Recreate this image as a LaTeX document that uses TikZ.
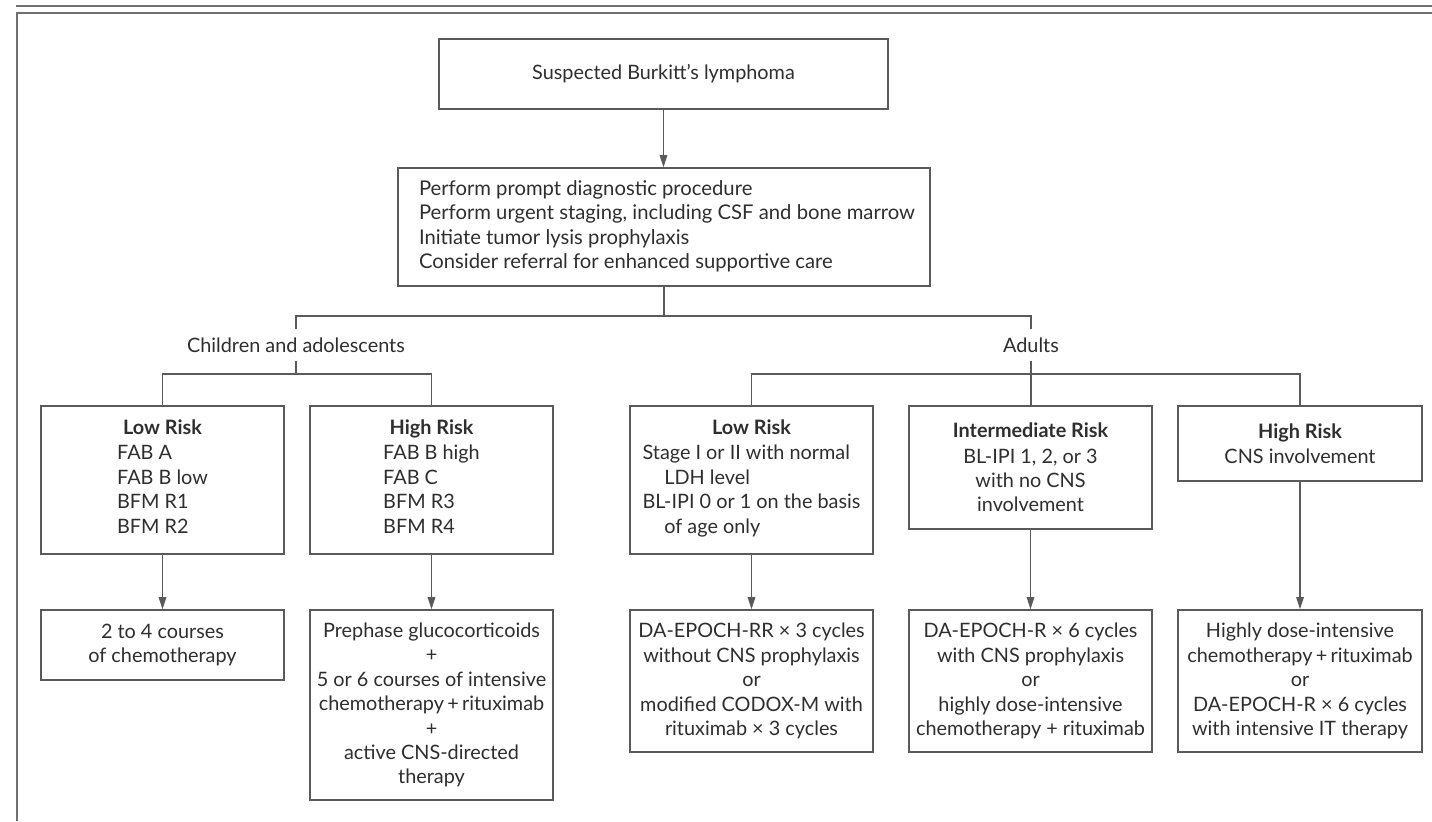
\documentclass[tikz,border=0pt]{standalone}
\usepackage{fontspec}
\setmainfont{Lato}
\usetikzlibrary{arrows.meta}
\definecolor{boxline}{HTML}{5A5A5A}
\definecolor{txt}{HTML}{2E2E2E}
\definecolor{rulegray}{HTML}{707070}
\newsavebox\measurebox
\newlength\measurelen
\begin{document}
% calibrate font sizes against the widths of the reference's text
\sbox\measurebox{\fontsize{10}{12}\selectfont Perform urgent staging, including CSF and bone marrow}%
\pgfmathsetmacro\worksize{10*497.86/\wd\measurebox}%
\sbox\measurebox{\fontsize{10}{12}\selectfont Stage I or II with normal}\setlength\measurelen{\wd\measurebox}%
\sbox\measurebox{\fontsize{10}{12}\selectfont without CNS prophylaxis}\addtolength\measurelen{\wd\measurebox}%
\sbox\measurebox{\fontsize{10}{12}\selectfont Highly dose-intensive}\addtolength\measurelen{\wd\measurebox}%
\sbox\measurebox{\fontsize{10}{12}\selectfont of chemotherapy}\addtolength\measurelen{\wd\measurebox}%
\pgfmathsetmacro\bodysize{10*762.85/\measurelen}%
\begin{tikzpicture}[x=1bp,y=-1bp,
  every node/.style={text=txt, font=\fontsize{\bodysize}{24.5}\selectfont},
  box/.style={draw=boxline, line width=1.6bp, inner sep=0pt, align=center, minimum width=243bp},
  conn/.style={draw=boxline, line width=1.3bp},
  arr/.style={conn, -{Triangle[length=12bp,width=7.5bp]}},
  lbl/.style={inner sep=0pt, minimum height=32bp}
]
\useasboundingbox (0,0) rectangle (1432,821);
% frame
\draw[rulegray, line width=1.5bp] (16,6) -- (1432,6);
\draw[rulegray, line width=1.5bp] (17,821) -- (17,13) -- (1432,13);

% top
\node[box, minimum width=449bp, minimum height=70bp] (start) at (663.5,74) {Suspected Burkitt's lymphoma};
\node[box, minimum width=532bp, minimum height=118bp, font=\fontsize{\worksize}{24.7}\selectfont] (work) at (664,227) {\makebox[490bp][l]{\begin{tabular}{@{}l@{}}Perform prompt diagnostic procedure\\Perform urgent staging, including CSF and bone marrow\\Initiate tumor lysis prophylaxis\\Consider referral for enhanced supportive care\end{tabular}}};

\node[lbl] (kids) at (296,345) {Children and adolescents};
\node[lbl] (adults) at (1031,345) {Adults};

% row 1
\node[box, minimum height=148bp] (cl) at (162.5,480) {\textbf{Low Risk}\\[1bp]\begin{tabular}[t]{@{}l@{}}FAB A\\FAB B low\\BFM R1\\BFM R2\end{tabular}};
\node[box, minimum height=148bp] (ch) at (431.5,480) {\textbf{High Risk}\\[1bp]\begin{tabular}[t]{@{}l@{}}FAB B high\\FAB C\\BFM R3\\BFM R4\end{tabular}};
\node[box, minimum height=148bp] (al) at (751.5,480) {\textbf{Low Risk}\\[1bp]\begin{tabular}[t]{@{}l@{}}Stage I or II with normal\\\hspace*{1.1em}LDH level\\BL-IPI 0 or 1 on the basis\\\hspace*{1.1em}of age only\end{tabular}};
\node[box, minimum height=123bp] (ai) at (1030.5,467.5) {\textbf{Intermediate Risk}\\[1bp]BL-IPI 1, 2, or 3\\with no CNS\\involvement};
\node[box, minimum width=244bp, minimum height=75bp] (ah) at (1300,443.5) {\textbf{High Risk}\\[1bp]CNS involvement};

% row 2
\node[box, minimum height=70bp] (cl2) at (162.5,645) {2 to 4 courses\\of chemotherapy};
\node[box, minimum height=190bp] (ch2) at (431.5,705) {Prephase glucocorticoids\\+\\5 or 6 courses of intensive\\chemotherapy\,+\,rituximab\\+\\active CNS-directed\\therapy};
\node[box, minimum height=142bp] (al2) at (751.5,681) {DA-EPOCH-RR × 3 cycles\\without CNS prophylaxis\\or\\modified CODOX-M with\\rituximab × 3 cycles};
\node[box, minimum height=142bp] (ai2) at (1030.5,681) {DA-EPOCH-R × 6 cycles\\with CNS prophylaxis\\or\\highly dose-intensive\\chemotherapy + rituximab};
\node[box, minimum width=244bp, minimum height=142bp] (ah2) at (1300,681) {Highly dose-intensive\\chemotherapy\,+\,rituximab\\or\\DA-EPOCH-R × 6 cycles\\with intensive IT therapy};

% connectors
\coordinate (j1) at (664,316);
\coordinate (j2) at (0,374);
\draw[arr] (start.south) -- (start.south |- work.north);
\draw[conn] (work.south) -- (work.south |- j1);
\draw[conn] (kids.north) -- (kids.north |- j1) -- (adults.north |- j1) -- (adults.north);
\draw[conn] (kids.south) -- (kids.south |- j2);
\draw[conn] (cl.north) -- (cl.north |- j2) -- (ch.north |- j2) -- (ch.north);
\draw[conn] (adults.south) -- (adults.south |- ai.north);
\draw[conn] (al.north) -- (al.north |- j2) -- (ah.north |- j2) -- (ah.north);
\draw[arr] (cl.south) -- (cl2.north);
\draw[arr] (ch.south) -- (ch2.north);
\draw[arr] (al.south) -- (al2.north);
\draw[arr] (ai.south) -- (ai2.north);
\draw[arr] (ah.south) -- (ah2.north);
\end{tikzpicture}
\end{document}
